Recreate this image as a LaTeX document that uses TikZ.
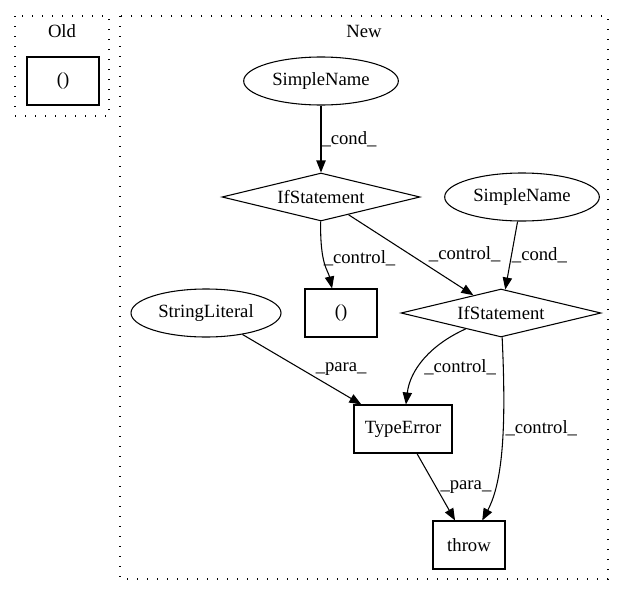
\documentclass[tikz,border=0pt]{standalone}
\usepackage{fontspec}
\setmainfont{Liberation Serif}
\usetikzlibrary{shapes.geometric,arrows.meta}
\begin{document}
\begin{tikzpicture}[x=0.75pt,y=-0.75pt,font=\fontsize{14}{16}\selectfont,
	box/.style={draw,line width=0.8pt,minimum width=54pt,minimum height=36pt,inner sep=0pt},
	oval/.style={draw,line width=0.8pt,ellipse,minimum width=116pt,minimum height=36pt,inner sep=0pt},
	cond/.style={draw,line width=0.8pt,diamond,aspect=4,minimum width=148.5pt,minimum height=36pt,inner sep=0pt},
	cluster/.style={line width=1pt,dash pattern=on 1pt off 6.5pt},
	edge/.style={-{Triangle[length=9pt,width=7pt]},line width=0.8pt},
	lbl/.style={inner sep=0pt}]
	\useasboundingbox (0,0) rectangle (624,596);
	% clusters
	\draw[cluster] (15,16) rectangle (109,116);
	\draw[cluster] (120,16) rectangle (608,579);
	\node(OldL) at (62,31){Old};
	\node(NewL) at (364,31){New};
	% nodes
	\node[box](OldP) at (63,81){()};
	\node[oval](SN1) at (321,81){SimpleName};
	\node[cond](IF1) at (321,197){IfStatement};
	\node[oval](SN2) at (522,197){SimpleName};
	\node[box](P) at (341,313){()};
	\node[cond,minimum width=150pt](IF2) at (501,313){IfStatement};
	\node[oval,minimum width=112.5pt](SL) at (206,313){StringLiteral};
	\node[box,minimum width=73.5pt](TE) at (403,429){TypeError};
	\node[box](TH) at (469,545){throw};
	% edges
	\draw[edge] (SN1) -- node[lbl,right]{\_cond\_} (IF1);
	\draw[edge] (IF1) .. controls (320,265) and (328,270) .. node[lbl,right,pos=0.4]{\_control\_} (P.110);
	\draw[edge] (IF1) -- node[lbl,right=14pt,pos=0.49]{\_control\_} (IF2);
	\draw[edge] (SN2) -- node[lbl,right]{\_cond\_} (IF2);
	\draw[edge] (SL) -- node[lbl,right=10pt]{\_para\_} (TE);
	\draw[edge] (IF2) .. controls (430,345) and (410,370) .. node[lbl,right=4pt,pos=0.6]{\_control\_} (TE);
	\draw[edge] (IF2) .. controls (506,420) and (504,480) .. node[lbl,right=1.5pt,pos=0.41]{\_control\_} (TH);
	\draw[edge] (TE) -- node[lbl,right=3pt]{\_para\_} (TH);
\end{tikzpicture}
\end{document}
